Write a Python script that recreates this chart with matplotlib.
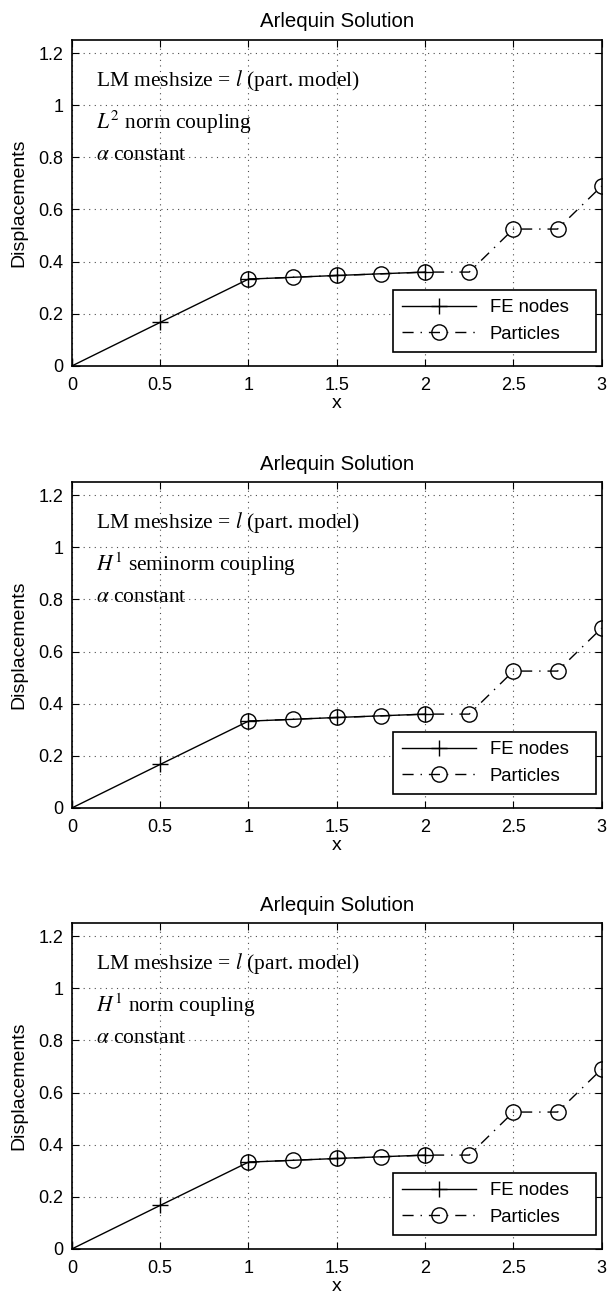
import matplotlib
matplotlib.use("Agg")
import matplotlib.pyplot as plt

fe_x = [0, 0.5, 1, 1.5, 2]
fe_y = [0, 0.167, 0.333, 0.347, 0.36]
part_x = [1, 1.25, 1.5, 1.75, 2, 2.25, 2.5, 2.75, 3]
part_y = [0.333, 0.34, 0.347, 0.353, 0.36, 0.36, 0.525, 0.525, 0.69]
coupling_labels = [r"$L^2$ norm coupling", r"$H^1$ seminorm coupling", r"$H^1$ norm coupling"]
title = "Arlequin Solution"
xticks = [0, 0.5, 1, 1.5, 2, 2.5, 3]
yticks = [0, 0.2, 0.4, 0.6, 0.8, 1, 1.2]

plt.rcParams['font.family'] = ['Liberation Sans', 'DejaVu Sans']
plt.rcParams['mathtext.fontset'] = 'stix'

fig = plt.figure(figsize=(6.14, 13.07), dpi=100)
bottoms = [0.72, 0.3818, 0.0444]
for b, lab in zip(bottoms, coupling_labels):
    ax = fig.add_axes([0.117, b, 0.863, 0.2494])
    ax.plot(fe_x, fe_y, '-', color='black', lw=1.0, marker='+', markersize=11, markeredgewidth=1.0, label='FE nodes')
    ax.plot(part_x, part_y, linestyle=(0, (8, 5, 1, 5)), color='black', lw=1.0, marker='o', markersize=11,
            markerfacecolor='none', markeredgewidth=1.0, label='Particles')
    ax.set_xlim(0, 3)
    ax.set_ylim(0, 1.25)
    ax.set_xticks(xticks)
    ax.set_xticklabels([f"{t:g}" for t in xticks])
    ax.set_yticks(yticks)
    ax.set_yticklabels([f"{t:g}" for t in yticks])
    ax.tick_params(direction='in', top=True, right=True, labelsize=13, length=5, pad=6)
    ax.tick_params(axis='x', pad=8)
    ax.grid(True, linestyle=(0, (1, 4)), color='black', lw=0.8, alpha=0.7)
    for s in ax.spines.values():
        s.set_linewidth(1.2)
    ax.set_title(title, fontsize=14.7, pad=9)
    ax.set_xlabel('x', fontsize=14, labelpad=1)
    ax.set_ylabel('Displacements', fontsize=14, labelpad=8)
    tx = 0.136
    ax.text(tx, 1.096, r"LM meshsize = $l$ (part. model)", family='Liberation Serif', fontsize=15.5, va='center', ha='left')
    ax.text(tx, 0.935, lab, family='Liberation Serif', fontsize=15.5, va='center', ha='left')
    ax.text(tx, 0.808, r"$\alpha$ constant", family='Liberation Serif', fontsize=15.5, va='center', ha='left')
    leg = ax.legend(loc='lower left', bbox_to_anchor=(0.6057, 0.043, 0.383, 0.2), mode='expand',
                    borderaxespad=0, fontsize=13.3, fancybox=False, framealpha=1, edgecolor='black',
                    handlelength=4.0, handletextpad=0.76, labelspacing=0.5, borderpad=0.5)
    leg.get_frame().set_linewidth(1.2)

fig.savefig('out.png', dpi=100)
